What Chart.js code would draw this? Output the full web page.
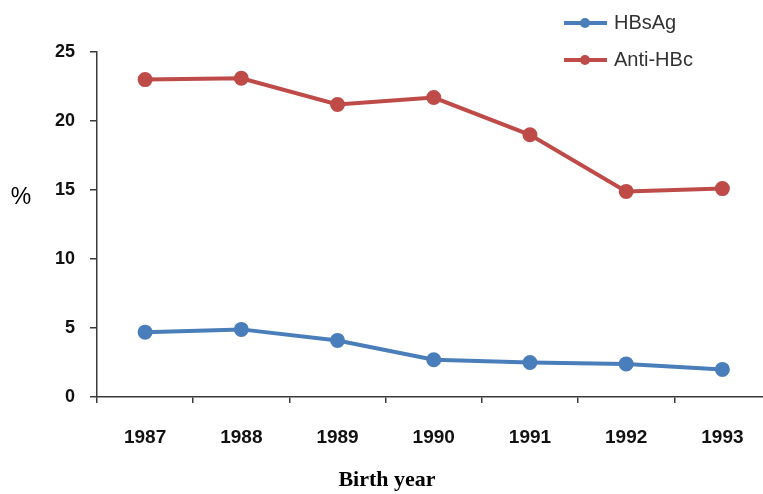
<!DOCTYPE html>
<html>
<head>
<meta charset="utf-8">
<script src="https://cdn.jsdelivr.net/npm/chart.js@4"></script>
<style>
  html, body { margin: 0; padding: 0; background: #fff; overflow: hidden; }
  #wrap { width: 763px; height: 494px; overflow: hidden; position: relative; }
  #chart { display: block; max-width: none !important; width: 780px !important; height: 494px !important; }
</style>
</head>
<body>
<div id="wrap"><canvas id="chart" width="780" height="494"></canvas></div>
<script>
// --- Data ---
const years = ['1987', '1988', '1989', '1990', '1991', '1992', '1993'];
const hbsag = [4.7, 4.9, 4.1, 2.7, 2.5, 2.4, 2.0];
const antiHbc = [23.0, 23.1, 21.2, 21.7, 19.0, 14.9, 15.1];
const yTicks = [0, 5, 10, 15, 20, 25];

const blue = '#4A7EBB';
const red = '#BE4B48';
const axisColor = '#3a3a3a';

// legend + axis titles drawn by hand (legend is stacked at top right)
const extras = {
    id: 'extras',
    afterDraw(chart) {
        const ctx = chart.ctx;
        ctx.save();
        ctx.fillStyle = '#000';
        ctx.textBaseline = 'middle';
        ctx.textAlign = 'center';
        ctx.font = '23px "Liberation Sans", Arial, sans-serif';
        ctx.fillText('%', 21, 198);

        ctx.font = 'bold 22px "Liberation Serif", "Times New Roman", serif';
        ctx.textBaseline = 'alphabetic';
        ctx.fillText('Birth year', 387, 486);

        // legend
        chart.data.datasets.forEach((ds, i) => {
            const y = 23 + i * 37;
            ctx.strokeStyle = ds.borderColor;
            ctx.lineWidth = 4;
            ctx.beginPath();
            ctx.moveTo(564, y);
            ctx.lineTo(607, y);
            ctx.stroke();
            ctx.fillStyle = ds.borderColor;
            ctx.beginPath();
            ctx.arc(585, y, 5, 0, Math.PI * 2);
            ctx.fill();
            ctx.fillStyle = '#333';
            ctx.textAlign = 'left';
            ctx.textBaseline = 'middle';
            ctx.font = '20px "Liberation Sans", Arial, sans-serif';
            ctx.fillText(ds.label, 614, y);
        });
        ctx.restore();
    }
};

new Chart(document.getElementById('chart'), {
    type: 'line',
    data: {
        labels: years,
        datasets: [
            {
                label: 'HBsAg',
                data: hbsag,
                borderColor: blue,
                backgroundColor: blue,
                borderWidth: 4,
                pointRadius: 5.5,
                pointHoverRadius: 5.5,
                tension: 0
            },
            {
                label: 'Anti-HBc',
                data: antiHbc,
                borderColor: red,
                backgroundColor: red,
                borderWidth: 4,
                pointRadius: 5.5,
                pointHoverRadius: 5.5,
                tension: 0
            }
        ]
    },
    options: {
        responsive: false,
        animation: false,
        layout: { padding: { top: 52, right: 0, left: 0, bottom: 0 } },
        plugins: {
            legend: { display: false },
            tooltip: { enabled: false }
        },
        scales: {
            x: {
                offset: true,
                grid: { offset: true, drawOnChartArea: false, drawTicks: true, tickLength: 6, color: axisColor, lineWidth: 1.5 },
                border: { color: axisColor, width: 1.5 },
                ticks: {
                    color: '#111',
                    padding: 23,
                    maxRotation: 0,
                    font: { family: '"Liberation Sans", Arial, sans-serif', size: 19, weight: 'bold' }
                },
                afterFit(scale) { scale.height = 97; }
            },
            y: {
                min: 0,
                max: 25,
                afterBuildTicks(scale) { scale.ticks = yTicks.map(v => ({ value: v })); },
                grid: { drawOnChartArea: false, drawTicks: true, tickLength: 7, color: axisColor, lineWidth: 1.5 },
                border: { color: axisColor, width: 1.5 },
                ticks: {
                    color: '#111',
                    padding: 15,
                    font: { family: '"Liberation Sans", Arial, sans-serif', size: 18, weight: 'bold' }
                },
                afterFit(scale) { scale.width = 97; }
            }
        }
    },
    plugins: [extras]
});
</script>
</body>
</html>
